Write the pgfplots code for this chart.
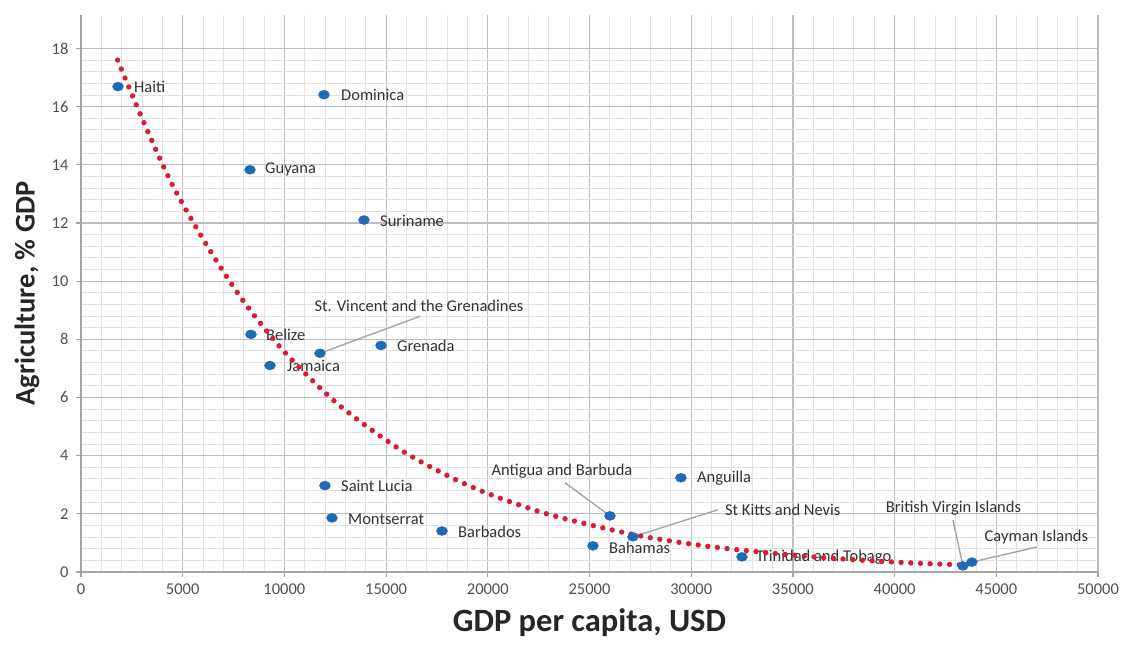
\documentclass[border=0pt]{standalone}
\usepackage{pgfplots}
\pgfplotsset{compat=1.18}
\usepackage{fontspec}
\setmainfont{Carlito}
\definecolor{ptblue}{RGB}{30,106,180}
\definecolor{trred}{RGB}{212,32,52}
\definecolor{majgrid}{RGB}{190,190,190}
\definecolor{mingrid}{RGB}{226,226,226}
\definecolor{axgray}{RGB}{165,165,165}
\definecolor{lbl}{RGB}{50,50,50}
\definecolor{tickc}{RGB}{80,80,80}
\tikzset{lab/.style={anchor=west, inner sep=0pt, font=\fontsize{16.5}{18}\selectfont, text=lbl},
  clab/.style={anchor=center, inner sep=0pt, font=\fontsize{16.5}{18}\selectfont, text=lbl},
  lead/.style={draw=axgray, line width=1.4pt}}
\begin{document}
\begin{tikzpicture}
\path[use as bounding box] (0,0) rectangle (1122pt,657pt);
\begin{axis}[
 at={(81pt,85pt)}, anchor=south west,
 scale only axis, width=1017pt, height=557pt,
 xmin=0, xmax=50000, ymin=0, ymax=19.15,
 xtick={0,5000,...,50000}, ytick={0,2,...,18},
 minor x tick num=4, minor y tick num=4,
 grid=both,
 major grid style={majgrid, line width=1.2pt},
 minor grid style={mingrid, line width=0.9pt},
 axis x line*=bottom, axis y line*=left,
 axis line style={axgray, line width=1.6pt, -},
 tick align=outside, major tick length=5pt, minor tick length=0pt,
 tick style={axgray, line width=1.2pt},
 scaled x ticks=false,
 /pgf/number format/assume math mode=true,
 /pgf/number format/1000 sep={},
 ticklabel style={font=\fontsize{16.5}{18}\selectfont, text=tickc},
 xticklabel style={yshift=-3pt},
 yticklabel style={xshift=-4pt},
 xlabel={GDP per capita, USD}, ylabel={Agriculture, \% GDP},
 every axis x label/.style={at={(axis description cs:0.5,0)}, anchor=center, yshift=-51pt, font=\fontsize{32.5}{36}\selectfont\bfseries, text=black!85},
 every axis y label/.style={at={(axis description cs:0,0.5)}, xshift=-54pt, rotate=90, anchor=center, font=\fontsize{28.5}{32}\selectfont\bfseries, text=black!85},
 clip=false,
]
% data labels
\node[lab] at (axis cs:2605,16.69) {Haiti};
\node[lab] at (axis cs:12782,16.41) {Dominica};
\node[lab] at (axis cs:9045,13.83) {Guyana};
\node[lab] at (axis cs:14699,12.07) {Suriname};
\node[lab] at (axis cs:9095,8.14) {Belize};
\node[lab] at (axis cs:15535,7.76) {Grenada};
\node[lab] at (axis cs:10127,7.07) {Jamaica};
\node[lab] at (axis cs:12782,2.97) {Saint Lucia};
\node[lab] at (axis cs:13126,1.83) {Montserrat};
\node[lab] at (axis cs:18533,1.38) {Barbados};
\node[lab] at (axis cs:25956,0.84) {Bahamas};
\node[lab] at (axis cs:30283,3.24) {Anguilla};
\node[lab] at (axis cs:33183,0.50) {Trinidad and Tobago};
\node[lab] at (axis cs:31659,2.14) {St Kitts and Nevis};
\node[clab] at (axis cs:23646,3.48) {Antigua and Barbuda};
\node[clab] at (axis cs:16616,9.14) {St. Vincent and the Grenadines};
\node[clab] at (axis cs:42892,2.21) {British Virgin Islands};
\node[clab] at (axis cs:46972,1.21) {Cayman Islands};
% leader lines
\draw[lead] (axis cs:11749,7.52) -- (axis cs:16665,8.79);
\draw[lead] (axis cs:23793,3.07) -- (axis cs:26006,1.93);
\draw[lead] (axis cs:27136,1.21) -- (axis cs:31315,2.14);
\draw[lead] (axis cs:42868,1.79) -- (axis cs:43359,0.21);
\draw[lead] (axis cs:43802,0.34) -- (axis cs:46997,0.86);
% trendline
\addplot[trred, line width=5.4pt, line cap=round, dash pattern=on 0pt off 9.7pt, smooth] coordinates {
(1800,17.6) (3000,15.6) (4500,13.3) (6300,11.1) (8000,9.3) (10000,7.57)
(12600,5.79) (15600,4.25) (18000,3.32) (20000,2.70) (23000,1.98) (27000,1.31)
(30000,0.96) (32500,0.75) (36000,0.52) (40000,0.34) (43300,0.245)
};
% data points
\addplot[only marks, mark=*, mark size=5pt, color=ptblue, mark options={xscale=1.1, yscale=0.9, draw=ptblue, fill=ptblue}] coordinates {
(1819,16.69) (11946,16.41) (8308,13.83) (13912,12.10) (8357,8.17) (11749,7.52)
(14748,7.79) (9291,7.10) (11995,2.97) (12339,1.86) (17747,1.41) (26006,1.93)
(29496,3.24) (27136,1.21) (25170,0.90) (32495,0.52) (43359,0.21) (43802,0.34)
};
\end{axis}
\end{tikzpicture}
\end{document}
